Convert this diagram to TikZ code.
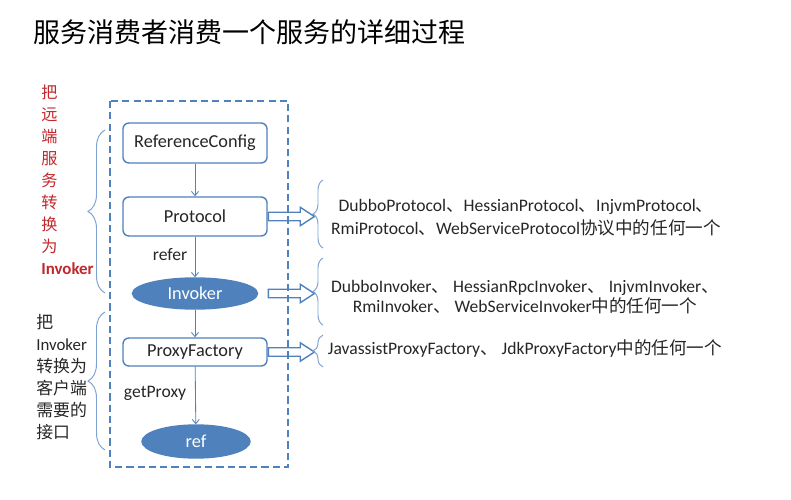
\documentclass[tikz,border=0pt]{standalone}
\usepackage{fontspec}
\setmainfont{Carlito}
\newfontfamily\cjk{Noto Sans CJK SC}
\usepackage{tikz}
\usetikzlibrary {arrows.meta,
                 decorations.pathreplacing,
                 positioning,
                 shapes.arrows,
                 shapes.geometric}
\definecolor{dubboblue}{HTML}{4F81BD}
\definecolor{bracecol}{HTML}{7FA3D0}
\definecolor{redtext}{HTML}{C0282D}
\definecolor{darktext}{HTML}{262626}
\newcommand{\zhtext}[1]{{\cjk #1}}
\tikzset{
        base/.style={draw=dubboblue, line width=1pt, align=center,
                     text=darktext, font=\fontsize{13}{15}\selectfont},
        proc/.style={base, rectangle, rounded corners=0.15cm,
                     minimum width=3.6cm, fill=white},
        term/.style={base, ellipse, fill=dubboblue, text=white,
                     inner sep=0pt},
        myarrow/.style={-{Straight Barb[length=3pt, width=5pt]},
                        draw=dubboblue, line width=0.6pt},
        hollow/.style={single arrow, draw=dubboblue, line width=1pt,
                       minimum height=1.15cm, inner sep=2.5pt,
                       single arrow head extend=0.125cm,
                       single arrow tip angle=66, anchor=tail},
        lbrace/.style={decorate, decoration={brace, amplitude=0.425cm},
                       draw=bracecol, line width=0.7pt},
        rbrace/.style={decorate, decoration={brace, amplitude=0.25cm},
                       draw=bracecol, line width=0.7pt},
        note/.style={text=darktext, align=center, inner sep=0pt},
        lbl/.style={text=darktext, inner sep=0pt,
                    font=\fontsize{12.5}{15}\selectfont},
 }

\begin{document}
\begin{tikzpicture}[x=0.025cm, y=-0.025cm]
    \useasboundingbox (0,0) rectangle (791,500);

    % title
    \node[anchor=west, inner sep=0pt, font=\fontsize{19.2}{19}\selectfont\cjk]
         (title) at (33,32) {服务消费者消费一个服务的详细过程};

    % main chain
    \node[proc, minimum height=1cm] (refconf) at (195,143) {ReferenceConfig};
    \node[proc, minimum height=0.975cm] (proto) at (195,216.5) {Protocol};
    \node[term, minimum width=3.125cm, minimum height=0.775cm]
         (invoker) at (195,293.5) {Invoker};
    \node[proc, minimum height=0.7cm] (pfactory) at (195,352) {ProxyFactory};
    \node[term, minimum width=2.7cm, minimum height=0.825cm]
         (ref) at (196,441.5) {ref};

    \draw[myarrow] (refconf) -- (proto);
    \draw[myarrow] (proto) -- (invoker);
    \draw[myarrow] (invoker) -- (pfactory);
    \draw[myarrow] (pfactory) -- (ref);

    \node[lbl] (refer) at (170,255) {refer};
    \node[lbl] (getproxy) at (155,393) {getProxy};

    % hollow arrows
    \node[hollow] (arrproto) at (proto.east) {};
    \node[hollow] (arrinv) at (invoker.east -| proto.east) {};
    \node[hollow] (arrpf) at (pfactory.east) {};

    % dashed frame
    \draw[dashed, dubboblue, line width=1pt, dash pattern=on 5pt off 3pt]
         (110,101) rectangle (288,467);

    % left braces and texts
    \draw[lbrace] (105,293) -- (105,130);
    \draw[lbrace] (105,450) -- (105,312);
    \node[anchor=north west, inner sep=0pt, align=left, text=redtext,
          font=\fontsize{11.5}{15.6}\selectfont\cjk] (redlabel) at (41,85)
         {把\\远\\端\\服\\务\\转\\换\\为\\{\rmfamily\bfseries\fontsize{12}{14}\selectfont Invoker}};
    \node[anchor=north west, inner sep=0pt, align=left, text=darktext,
          font=\fontsize{12}{15.6}\selectfont\cjk] (graylabel) at (36,314)
         {把\\{\rmfamily Invoker}\\转换为\\客户端\\需要的\\接口};

    % right braces and texts
    \draw[rbrace] (323,248) -- (323,180);
    \draw[rbrace] (323,325) -- (323,258);
    \draw[rbrace] (323,367) -- (323,335);

    \node[note, font=\fontsize{12.5}{16.3}\selectfont] (protolist) at (526,218)
         {DubboProtocol\zhtext{、}HessianProtocol\zhtext{、}InjvmProtocol\zhtext{、}\\
          RmiProtocol\zhtext{、}WebServiceProtocol\zhtext{协议中的任何一个}};
    \node[note, font=\fontsize{12.5}{14.2}\selectfont] (invlist) at (525,297)
         {DubboInvoker\zhtext{、} HessianRpcInvoker\zhtext{、} InjvmInvoker\zhtext{、}\\
          RmiInvoker\zhtext{、} WebServiceInvoker\zhtext{中的任何一个}};
    \node[note, font=\fontsize{12.5}{14}\selectfont] (pflist) at (525,348)
         {JavassistProxyFactory\zhtext{、} JdkProxyFactory\zhtext{中的任何一个}};
\end{tikzpicture}
\end{document}
